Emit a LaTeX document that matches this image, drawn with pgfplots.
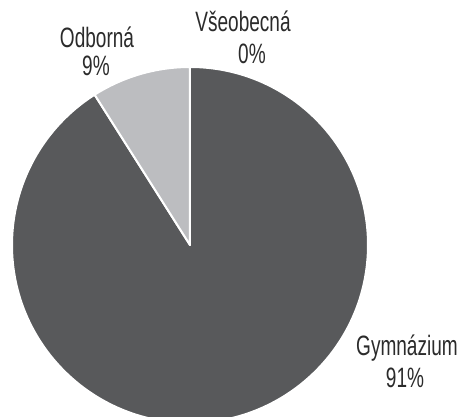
\documentclass[border=0pt]{standalone}
\usepackage{pgfplots}
\pgfplotsset{compat=1.18}
\usepackage{fontspec}
\setmainfont[FakeStretch=0.68]{Liberation Sans}
\definecolor{darkslice}{HTML}{58595B}
\definecolor{lightslice}{HTML}{BCBDC0}
\definecolor{txt}{HTML}{2B2B2B}
\begin{document}
\begin{tikzpicture}
\def\pGym{91}
\def\pOdb{9}
\def\pVse{0}
\def\R{133.5pt}
\begin{axis}[
  x=0.75pt, y=0.75pt,
  xmin=0, xmax=462, ymin=0, ymax=417,
  hide axis, clip=true,
]
\addplot[draw=none] coordinates {(0,0) (462,417)};
% Gymnazium: clockwise from 12 o'clock
\fill[darkslice, draw=white, line width=1.5pt, line join=round]
  (axis cs:190,172) -- ++(90:\R) arc[start angle=90, end angle={90-3.6*\pGym}, radius=\R] -- cycle;
% Odborna
\fill[lightslice, draw=white, line width=1.5pt, line join=round]
  (axis cs:190,172) -- ++({90-3.6*\pGym}:\R) arc[start angle={90-3.6*\pGym}, end angle={90-3.6*(\pGym+\pOdb)}, radius=\R] -- cycle;
% labels
\node[anchor=base, text=txt, font=\fontsize{21}{23}\selectfont] at (axis cs:243,385) {Všeobecná};
\node[anchor=base, text=txt, font=\fontsize{21}{23}\selectfont] at (axis cs:252,353) {0\%};
\node[anchor=base, text=txt, font=\fontsize{21}{23}\selectfont] at (axis cs:97,369) {Odborná};
\node[anchor=base, text=txt, font=\fontsize{21}{23}\selectfont] at (axis cs:96,341) {9\%};
\node[anchor=base, text=txt, font=\fontsize{21}{23}\selectfont] at (axis cs:407,61) {Gymnázium};
\node[anchor=base, text=txt, font=\fontsize{21}{23}\selectfont] at (axis cs:405,29) {91\%};
\end{axis}
\end{tikzpicture}
\end{document}
